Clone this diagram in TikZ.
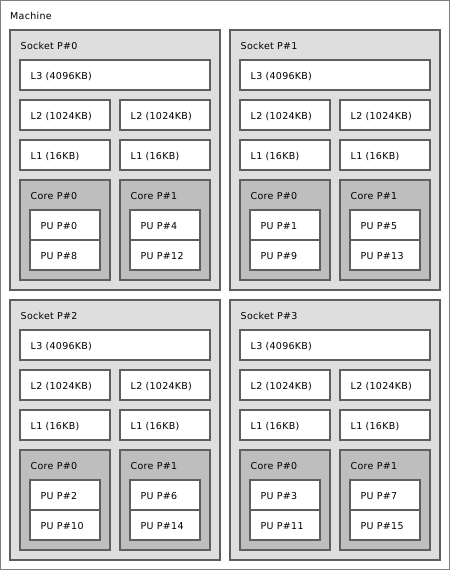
\documentclass[tikz,border=0pt]{standalone}
\usepackage{fontspec}
\setmainfont[LetterSpace=3]{DejaVu Sans}
\definecolor{sockfill}{HTML}{DEDEDE}
\definecolor{corefill}{HTML}{BEBEBE}
\definecolor{edge}{HTML}{5E5E5E}
\tikzset{
  box/.style={draw=edge, line width=1.4pt, anchor=north west, inner sep=0pt, outer sep=0pt},
  sockbox/.style={box, fill=sockfill, minimum width=210pt, minimum height=260pt},
  wide/.style={box, fill=white, minimum width=190pt, minimum height=30pt},
  half/.style={box, fill=white, minimum width=90pt, minimum height=30pt},
  corebox/.style={box, fill=corefill, minimum width=90pt, minimum height=100pt},
  pubox/.style={box, fill=white, minimum width=70pt, minimum height=30pt},
  lbl/.style={anchor=base west, inner sep=0pt, font=\fontsize{9.5}{11}\selectfont},
}
\begin{document}
\begin{tikzpicture}[x=1pt,y=-1pt]
\useasboundingbox (0,0) rectangle (450,570);
\node[box, draw=edge!80, line width=1pt, fill=white, minimum width=449pt, minimum height=569pt] (M) at (0.5,0.5) {};
\node[lbl] (Mt) at ([xshift=9.5pt,yshift=-18.8pt]M.north west) {Machine};
\foreach \s/\sx/\sy in {0/10/30,1/230/30,2/10/300,3/230/300}{
  \pgfmathtruncatemacro\pa{\s+8}
  \pgfmathtruncatemacro\pb{\s+4}
  \pgfmathtruncatemacro\pc{\s+12}
  \node[sockbox] (S\s) at (\sx,\sy) {};
  \node[lbl] (S\s t) at ([xshift=10.5pt,yshift=-19.3pt]S\s.north west) {Socket P\#\s};
  \node[wide] (L3\s) at ([xshift=10pt,yshift=-30pt]S\s.north west) {};
  \node[lbl] at ([xshift=10.5pt,yshift=-19.3pt]L3\s.north west) {L3 (4096KB)};
  \node[half] (L2a\s) at ([xshift=10pt,yshift=-70pt]S\s.north west) {};
  \node[lbl] at ([xshift=10.5pt,yshift=-19.3pt]L2a\s.north west) {L2 (1024KB)};
  \node[half] (L2b\s) at ([xshift=110pt,yshift=-70pt]S\s.north west) {};
  \node[lbl] at ([xshift=10.5pt,yshift=-19.3pt]L2b\s.north west) {L2 (1024KB)};
  \node[half] (L1a\s) at ([xshift=10pt,yshift=-110pt]S\s.north west) {};
  \node[lbl] at ([xshift=10.5pt,yshift=-19.3pt]L1a\s.north west) {L1 (16KB)};
  \node[half] (L1b\s) at ([xshift=110pt,yshift=-110pt]S\s.north west) {};
  \node[lbl] at ([xshift=10.5pt,yshift=-19.3pt]L1b\s.north west) {L1 (16KB)};
  \node[corebox] (Ca\s) at ([xshift=10pt,yshift=-150pt]S\s.north west) {};
  \node[lbl] at ([xshift=10.5pt,yshift=-19.3pt]Ca\s.north west) {Core P\#0};
  \node[corebox] (Cb\s) at ([xshift=110pt,yshift=-150pt]S\s.north west) {};
  \node[lbl] at ([xshift=10.5pt,yshift=-19.3pt]Cb\s.north west) {Core P\#1};
  \node[pubox] (Pa\s) at ([xshift=10pt,yshift=-30pt]Ca\s.north west) {};
  \node[lbl] at ([xshift=10.5pt,yshift=-19.3pt]Pa\s.north west) {PU P\#\s};
  \node[pubox] (Pb\s) at ([xshift=10pt,yshift=-60pt]Ca\s.north west) {};
  \node[lbl] at ([xshift=10.5pt,yshift=-19.3pt]Pb\s.north west) {PU P\#\pa};
  \node[pubox] (Pc\s) at ([xshift=10pt,yshift=-30pt]Cb\s.north west) {};
  \node[lbl] at ([xshift=10.5pt,yshift=-19.3pt]Pc\s.north west) {PU P\#\pb};
  \node[pubox] (Pd\s) at ([xshift=10pt,yshift=-60pt]Cb\s.north west) {};
  \node[lbl] at ([xshift=10.5pt,yshift=-19.3pt]Pd\s.north west) {PU P\#\pc};
}
\end{tikzpicture}
\end{document}
